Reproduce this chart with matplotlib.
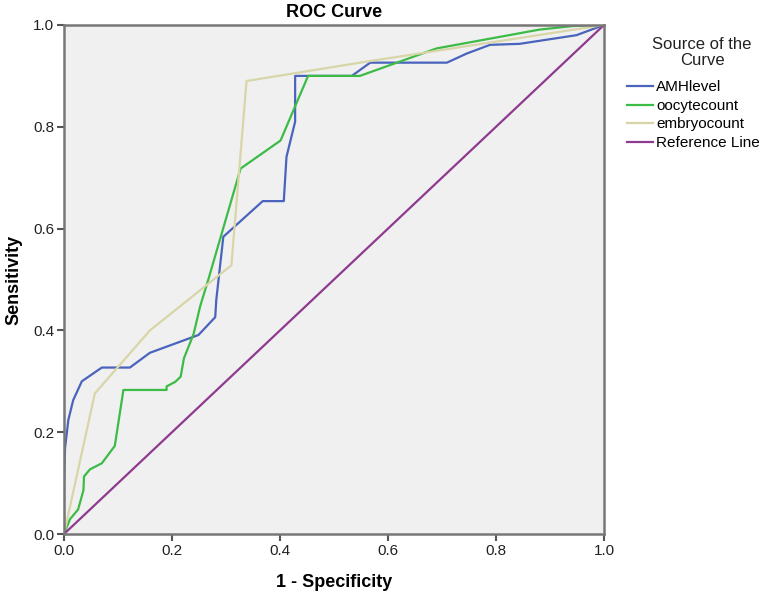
import matplotlib.pyplot as plt
from matplotlib.lines import Line2D

# ROC curve points (1 - specificity, sensitivity)
amh_x = [0.0, 0.0, 0.002, 0.008, 0.017, 0.033, 0.07, 0.122, 0.159, 0.249, 0.28, 0.282,
         0.295, 0.368, 0.407, 0.412, 0.428, 0.428, 0.533, 0.567, 0.709, 0.746, 0.789,
         0.844, 0.949, 1.0]
amh_y = [0.0, 0.1, 0.17, 0.224, 0.263, 0.30, 0.327, 0.327, 0.356, 0.391, 0.426, 0.46,
         0.584, 0.654, 0.654, 0.741, 0.81, 0.90, 0.90, 0.926, 0.926, 0.944, 0.961,
         0.963, 0.98, 1.0]

oocyte_x = [0.0, 0.011, 0.026, 0.036, 0.037, 0.048, 0.07, 0.094, 0.11, 0.19, 0.19,
            0.206, 0.216, 0.222, 0.24, 0.252, 0.267, 0.327, 0.401, 0.452, 0.548,
            0.69, 0.881, 0.943, 1.0]
oocyte_y = [0.0, 0.029, 0.048, 0.086, 0.113, 0.127, 0.139, 0.173, 0.283, 0.283, 0.29,
            0.299, 0.309, 0.345, 0.393, 0.447, 0.499, 0.718, 0.773, 0.90, 0.90,
            0.954, 0.991, 0.998, 1.0]

embryo_x = [0.0, 0.057, 0.159, 0.31, 0.338, 0.56, 1.0]
embryo_y = [0.0, 0.276, 0.40, 0.528, 0.89, 0.928, 1.0]

ref_x = [0.0, 1.0]
ref_y = [0.0, 1.0]

labels = ['AMHlevel', 'oocytecount', 'embryocount', 'Reference Line']
colors = ['#4a63bd', '#3dbb47', '#d8d6a8', '#8e3a8e']

plt.rcParams['font.family'] = ['Liberation Sans', 'DejaVu Sans']

fig = plt.figure(figsize=(7.63, 5.95), dpi=100)
ax = fig.add_axes([0.0839, 0.1025, 0.7077, 0.8555])
ax.set_facecolor('#f0f0f0')

series = [(amh_x, amh_y), (oocyte_x, oocyte_y), (embryo_x, embryo_y), (ref_x, ref_y)]
for (xs, ys), c in zip(series, colors):
    ax.plot(xs, ys, color=c, lw=1.6, solid_joinstyle='round')

ax.set_xlim(0, 1)
ax.set_ylim(0, 1)
ticks = [0.0, 0.2, 0.4, 0.6, 0.8, 1.0]
ax.set_xticks(ticks)
ax.set_yticks(ticks)
ax.set_xticklabels(['%.1f' % t for t in ticks])
ax.set_yticklabels(['%.1f' % t for t in ticks])
ax.tick_params(direction='out', length=5, width=1.5, color='#555555', labelsize=11,
               labelcolor='#222222', pad=2)

for s in ax.spines.values():
    s.set_color('#777777')
    s.set_linewidth(1.8)

ax.set_title('ROC Curve', fontsize=13, fontweight='bold', pad=6)
ax.set_xlabel('1 - Specificity', fontsize=13, fontweight='bold', labelpad=12)
ax.set_ylabel('Sensitivity', fontsize=13, fontweight='bold', labelpad=8)

handles = [Line2D([0], [0], color=c, lw=1.6) for c in colors]
fig.text(0.92, 0.937, 'Source of the\nCurve', ha='center', va='top', fontsize=12,
         color='#222222', linespacing=1.05)
fig.legend(handles, labels, loc='upper left', bbox_to_anchor=(0.822, 0.865), frameon=False,
           fontsize=11, handlelength=1.7, handletextpad=0.2, labelspacing=0.3,
           borderpad=0, borderaxespad=0)

fig.savefig('out.png', dpi=100)
